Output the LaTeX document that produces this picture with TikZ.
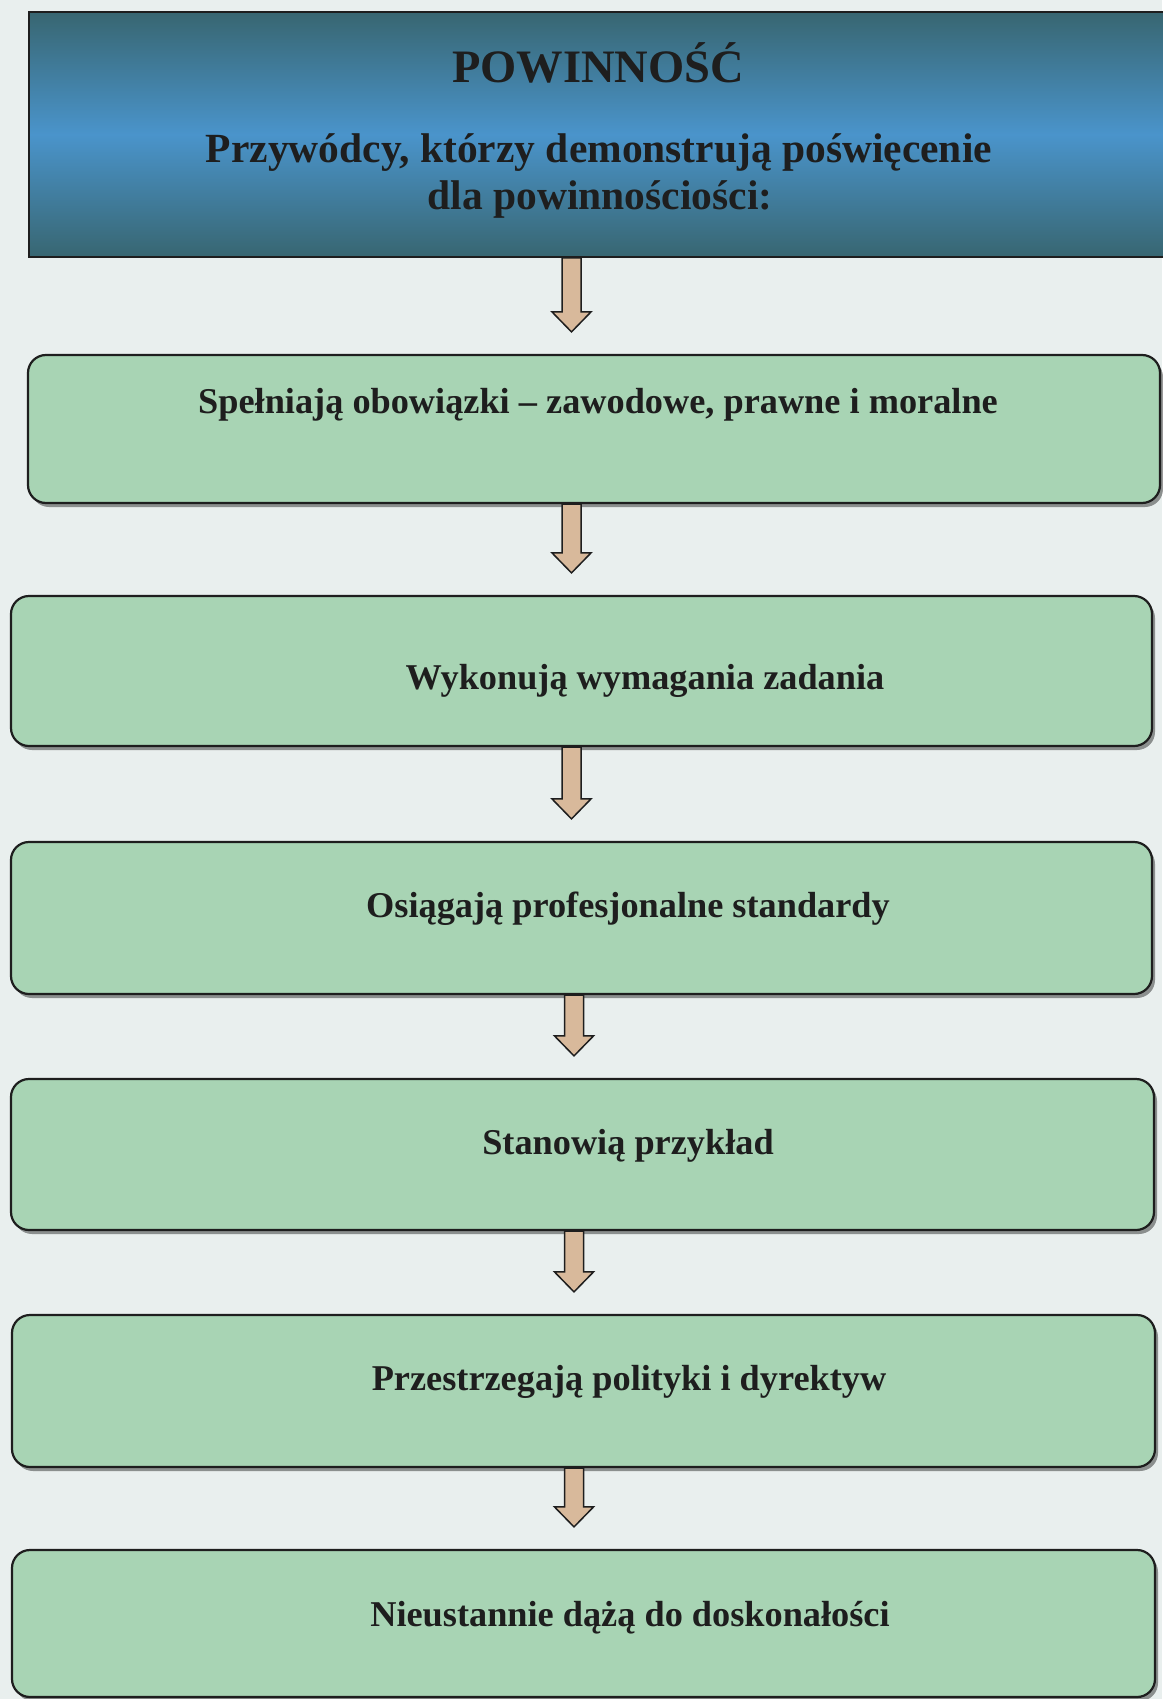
\documentclass[tikz,border=0pt]{standalone}
\usepackage{fontspec}
\setmainfont{Liberation Serif}
\usetikzlibrary{calc,shadows}

\definecolor{paper}{HTML}{E9EFEE}
\definecolor{boxgreen}{HTML}{A8D4B4}
\definecolor{arrowtan}{HTML}{D8B99B}
\definecolor{headdark}{HTML}{386671}
\definecolor{headlight}{HTML}{4A94CB}
\definecolor{ink}{HTML}{1E1E1E}

\tikzset{
  headbox/.style={draw=ink, line width=1.6pt, inner sep=0pt,
    top color=headdark, bottom color=headdark, middle color=headlight},
  stepbox/.style={draw=ink, line width=2.2pt, inner sep=0pt, rounded corners=18pt,
    fill=boxgreen,
    drop shadow={shadow xshift=3pt, shadow yshift=-4pt, opacity=0.4, fill=black}},
  titletext/.style={text=ink, anchor=base, inner sep=0pt,
    font=\fontsize{46.5}{50}\selectfont\bfseries},
  subtext/.style={text=ink, anchor=base, inner sep=0pt,
    font=\fontsize{41.5}{46}\selectfont\bfseries},
  steptext/.style={text=ink, anchor=base, inner sep=0pt,
    font=\fontsize{36.3}{40}\selectfont\bfseries},
  flowarrow/.style={draw=ink, line width=1.5pt, fill=arrowtan, line join=miter},
}

% block arrow from the bottom of one box towards the top of the next,
% #3 is the x position of its axis
\newcommand{\blockarrow}[3]{%
  \path let \p1=(#1.south), \p2=(#2.north) in
    [flowarrow]
    (#3pt-9.5pt,\y1) -- (#3pt-9.5pt,\y2+42pt) -- (#3pt-19.5pt,\y2+42pt)
    -- (#3pt,\y2+22pt) -- (#3pt+19.5pt,\y2+42pt) -- (#3pt+9.5pt,\y2+42pt)
    -- (#3pt+9.5pt,\y1) -- cycle;}

\begin{document}
\begin{tikzpicture}[x=1pt,y=-1pt]
  \fill[paper] (0,0) rectangle (1162,1699);
  \useasboundingbox (0,0) rectangle (1162,1699);

  % heading panel
  \node[headbox, minimum width=1160pt, minimum height=245pt] (b0) at (609,134.5) {};
  \node[titletext] (t0) at (598,83) {POWINNOŚĆ};
  \node[subtext] (t0a) at (599,163) {Przywódcy, którzy demonstrują poświęcenie};
  \node[subtext] (t0b) at (600,210) {dla powinnościości:};

  % steps
  \node[stepbox, minimum width=1132pt, minimum height=148pt] (b1) at (594,429) {};
  \node[stepbox, minimum width=1141pt, minimum height=150pt] (b2) at (581.5,671) {};
  \node[stepbox, minimum width=1141pt, minimum height=152pt] (b3) at (581.5,918) {};
  \node[stepbox, minimum width=1143pt, minimum height=151pt] (b4) at (582.5,1154.5) {};
  \node[stepbox, minimum width=1143pt, minimum height=152pt] (b5) at (583.5,1391) {};
  \node[stepbox, minimum width=1143pt, minimum height=147pt] (b6) at (583.5,1623.5) {};

  \node[steptext] (t1) at (598,413) {Spełniają obowiązki – zawodowe, prawne i moralne};
  \node[steptext] (t2) at (645,689) {Wykonują wymagania zadania};
  \node[steptext] (t3) at (628,917) {Osiągają profesjonalne standardy};
  \node[steptext] (t4) at (628,1154) {Stanowią przykład};
  \node[steptext] (t5) at (629,1390) {Przestrzegają polityki i dyrektyw};
  \node[steptext] (t6) at (630,1626) {Nieustannie dążą do doskonałości};

  % connecting arrows
  \blockarrow{b0}{b1}{571.5}
  \blockarrow{b1}{b2}{571.5}
  \blockarrow{b2}{b3}{571.5}
  \blockarrow{b3}{b4}{574}
  \blockarrow{b4}{b5}{574}
  \blockarrow{b5}{b6}{574}
\end{tikzpicture}
\end{document}
